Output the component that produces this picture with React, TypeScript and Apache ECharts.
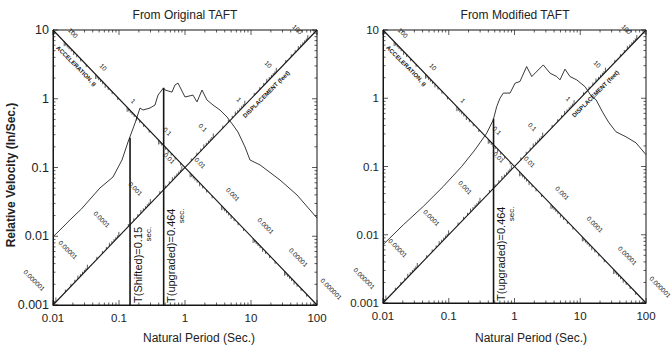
import React, { useEffect, useRef } from 'react';
import * as echarts from 'echarts';

// ---- data -------------------------------------------------------------
const periodRange = [0.01, 100];
const velocityRange = [0.001, 10];

const originalPeriod = [0.01, 0.0137, 0.018, 0.027, 0.0515, 0.081, 0.111, 0.137, 0.175, 0.208, 0.231, 0.295, 0.351, 0.39, 0.47, 0.498, 0.635, 0.705, 0.783, 1.0, 1.32, 1.52, 1.81, 2.15, 2.66, 3.39, 4.33, 5.34, 6.35, 8.11, 9.66, 13.7, 27.5, 49.8, 100];
const originalVelocity = [0.0098, 0.0132, 0.0172, 0.025, 0.0504, 0.0727, 0.1285, 0.235, 0.443, 0.733, 0.686, 0.733, 0.81, 1.13, 1.43, 1.34, 1.25, 1.585, 1.69, 1.06, 1.13, 0.9, 1.34, 0.96, 0.81, 0.686, 0.543, 0.415, 0.328, 0.199, 0.1285, 0.109, 0.0658, 0.0398, 0.0184];

const modifiedPeriod = [0.01, 0.0204, 0.041, 0.0826, 0.157, 0.25, 0.378, 0.476, 0.536, 0.601, 0.676, 0.855, 1.02, 1.21, 1.53, 1.83, 2.74, 3.47, 4.38, 4.92, 5.86, 6.98, 8.83, 11.8, 14.9, 17.4, 22.2, 27.4, 35, 49.7, 70.5, 100];
const modifiedVelocity = [0.00714, 0.014, 0.026, 0.051, 0.1, 0.175, 0.308, 0.483, 0.755, 1.0, 1.19, 1.19, 1.66, 1.76, 2.91, 2.08, 3.08, 2.33, 2.08, 1.86, 2.67, 2.08, 1.86, 1.48, 1.06, 0.95, 0.61, 0.436, 0.322, 0.272, 0.222, 0.149];

const originalMarkerPeriods = [0.147, 0.475];
const originalMarkerTops = [0.27, 1.45];
const originalMarkerLabels = ['T(Shifted)=0.15', 'T(upgraded)=0.464'];

const modifiedMarkerPeriods = [0.48];
const modifiedMarkerTops = [0.5];
const modifiedMarkerLabels = ['T(upgraded)=0.464'];

const accelerationLabels = ['100', '10', '1', '0.1', '0.01', '0.001', '0.0001', '0.00001', '0.000001'];
const displacementLabels = ['0.000001', '0.00001', '0.0001', '0.001', '0.01', '0.1', '1', '10', '100'];

const panelTitles = ['From Original TAFT', 'From Modified TAFT'];

// ---- style ------------------------------------------------------------
const INK = '#151515';
const FONT = '"Liberation Sans", Arial, Helvetica, sans-serif';
const STEP = 0.477; // log10-period span of one decade on the diagonal scales
const ACC_START = -1.83;
const DISP_START = -1.956;

const grids = [
  { left: 53, top: 30, width: 264, height: 275 },
  { left: 383, top: 30, width: 263, height: 273 },
];

function fmt(v: number) {
  return String(Number(Number(v).toPrecision(6)));
}

function overlay(gi: number, mPeriods: number[], mLabels: string[]) {
  return {
    type: 'custom',
    xAxisIndex: gi,
    yAxisIndex: gi,
    clip: false,
    silent: true,
    z: 5,
    data: [[1, 0.1]],
    renderItem: (_params: any, api: any) => {
      const kids: any[] = [];
      const [tMin, tMax] = periodRange;
      const [vMin, vMax] = velocityRange;
      const ltMin = Math.log10(tMin), ltMax = Math.log10(tMax);
      const lvMin = Math.log10(vMin), lvMax = Math.log10(vMax);
      const slope = (lvMax - lvMin) / (ltMax - ltMin);
      const seg = (a: number[], b: number[], w = 0.7) =>
        kids.push({ type: 'line', shape: { x1: a[0], y1: a[1], x2: b[0], y2: b[1] }, style: { stroke: INK, lineWidth: w } });
      const txt = (x: number, y: number, text: string, rot: number, size: number, extra: any = {}) =>
        kids.push({
          type: 'text', x, y, rotation: rot,
          style: { text, fontSize: size, fontFamily: FONT, fill: INK, align: 'center', verticalAlign: 'middle', ...extra },
        });
      const rise = (lt: number) => api.coord([10 ** lt, 10 ** (lvMin + (lt - ltMin) * slope)]);
      const fall = (lt: number) => api.coord([10 ** lt, 10 ** (lvMax - (lt - ltMin) * slope)]);
      const inside = (lt: number) => lt >= ltMin + 0.02 && lt <= ltMax - 0.02;

      // frame ticks (period)
      for (let d = Math.round(ltMin); d <= Math.round(ltMax); d++) {
        for (let m = 1; m <= 9; m++) {
          if (d === Math.round(ltMax) && m > 1) break;
          const t = m * 10 ** d;
          const len = m === 1 ? 5 : 2.5;
          const b = api.coord([t, vMin]);
          const tp = api.coord([t, vMax]);
          seg(b, [b[0], b[1] - len]);
          seg(tp, [tp[0], tp[1] + len]);
        }
      }
      // frame ticks (velocity)
      for (let d = Math.round(lvMin); d <= Math.round(lvMax); d++) {
        for (let m = 1; m <= 9; m++) {
          if (d === Math.round(lvMax) && m > 1) break;
          const v = m * 10 ** d;
          const len = m === 1 ? 5 : 2.5;
          const l = api.coord([tMin, v]);
          const r = api.coord([tMax, v]);
          seg(l, [l[0] + len, l[1]]);
          seg(r, [r[0] - len, r[1]]);
        }
      }

      const s2 = Math.SQRT1_2;
      // displacement scale along rising diagonal
      for (let k = -1; k < displacementLabels.length; k++) {
        const base = DISP_START + STEP * k;
        for (let m = 1; m <= 9; m++) {
          const lt = base + STEP * Math.log10(m);
          if (!inside(lt)) continue;
          const p = rise(lt);
          const len = m === 1 ? 4.5 : m === 5 ? 3.5 : 2.5;
          seg(p, [p[0], p[1] - len]);
        }
        if (k >= 0) {
          const p = rise(base);
          const lab = displacementLabels[k];
          const d = 5 + 3.2 * lab.length;
          txt(p[0] - d * s2, p[1] - d * s2, lab, -Math.PI / 4, 6.5);
        }
      }
      // acceleration scale along falling diagonal
      for (let k = -1; k < accelerationLabels.length; k++) {
        const base = ACC_START + STEP * k;
        for (let m = 1; m <= 9; m++) {
          const lt = m === 1 ? base : base + STEP * (1 - Math.log10(m));
          if (!inside(lt)) continue;
          const p = fall(lt);
          const len = m === 1 ? 4.5 : m === 5 ? 3.5 : 2.5;
          seg(p, [p[0], p[1] + len]);
        }
        if (k >= 0) {
          const p = fall(base);
          const lab = accelerationLabels[k];
          const d = 7 + 1.8 * lab.length;
          txt(p[0] + d * s2, p[1] - d * s2, lab, -Math.PI / 4, 6.5);
        }
      }
      // scale names
      const pa = fall(-1.56);
      txt(pa[0] - 8 * s2, pa[1] + 8 * s2, 'ACCELERATION, g', -Math.PI / 4, 6, { fontWeight: 'bold' });
      const pd = rise(1.147);
      txt(pd[0] + 8 * s2, pd[1] + 8 * s2, 'DISPLACEMENT (feet)', Math.PI / 4, 6, { fontWeight: 'bold' });

      // marker labels
      mPeriods.forEach((t, i) => {
        const p = api.coord([t, vMin]);
        kids.push({
          type: 'text',
          x: p[0] + 1.5,
          y: p[1] - 2,
          rotation: Math.PI / 2,
          style: {
            text: `{a|${mLabels[i]}}\n{b|sec.}`,
            align: 'left',
            verticalAlign: 'top',
            fill: INK,
            fontFamily: FONT,
            rich: {
              a: { fontSize: 11, fontFamily: FONT, fill: INK, lineHeight: 12 },
              b: { fontSize: 8, fontFamily: FONT, fill: INK, lineHeight: 9, align: 'right' },
            },
          },
        });
      });
      return { type: 'group', children: kids };
    },
  };
}

function panelSeries(gi: number, periods: number[], velocities: number[], mPeriods: number[], mTops: number[], mLabels: string[]) {
  const [tMin, tMax] = periodRange;
  const [vMin, vMax] = velocityRange;
  const out: any[] = [
    {
      type: 'line', xAxisIndex: gi, yAxisIndex: gi, symbol: 'none', silent: true, z: 3,
      data: periods.map((t, i) => [t, velocities[i]]),
      lineStyle: { color: '#222', width: 0.9 },
    },
    {
      type: 'line', xAxisIndex: gi, yAxisIndex: gi, symbol: 'none', silent: true, z: 4,
      data: [[tMin, vMax], [tMax, vMin]],
      lineStyle: { color: INK, width: 1.1 },
    },
    {
      type: 'line', xAxisIndex: gi, yAxisIndex: gi, symbol: 'none', silent: true, z: 4,
      data: [[tMin, vMin], [tMax, vMax]],
      lineStyle: { color: INK, width: 1.1 },
    },
  ];
  mPeriods.forEach((t, i) => {
    out.push({
      type: 'line', xAxisIndex: gi, yAxisIndex: gi, symbol: 'none', silent: true, z: 4,
      data: [[t, vMin], [t, mTops[i]]],
      lineStyle: { color: INK, width: 1.6 },
    });
  });
  out.push(overlay(gi, mPeriods, mLabels));
  return out;
}

export default function App() {
  const ref = useRef<HTMLDivElement>(null);
  useEffect(() => {
    if (!ref.current) return;
    const chart = echarts.init(ref.current, undefined, { renderer: 'svg' });
    const axisCommon = {
      type: 'log', logBase: 10,
      axisLine: { show: true, onZero: false, lineStyle: { color: INK, width: 1 } },
      axisTick: { show: false },
      splitLine: { show: false },
      minorTick: { show: false },
    };
    chart.setOption({
      animation: false,
      backgroundColor: '#fff',
      textStyle: { fontFamily: FONT },
      grid: grids.map((g) => ({ ...g, show: true, borderColor: INK, borderWidth: 1, backgroundColor: 'transparent' })),
      xAxis: grids.map((_, i) => ({
        ...axisCommon, gridIndex: i, min: periodRange[0], max: periodRange[1],
        axisLabel: { fontSize: 11.5, color: '#222', margin: 7, fontFamily: FONT, formatter: fmt },
      })),
      yAxis: grids.map((_, i) => ({
        ...axisCommon, gridIndex: i, min: velocityRange[0], max: velocityRange[1],
        axisLabel: { fontSize: i === 0 ? 12.5 : 11.5, color: '#222', margin: 4, fontFamily: FONT, formatter: fmt },
      })),
      graphic: [
        { type: 'text', x: 185, y: 15, style: { text: panelTitles[0], fontSize: 12, fontFamily: FONT, fill: '#222', align: 'center', verticalAlign: 'middle' } },
        { type: 'text', x: 515, y: 15, style: { text: panelTitles[1], fontSize: 12, fontFamily: FONT, fill: '#222', align: 'center', verticalAlign: 'middle' } },
        { type: 'text', x: 199, y: 338, style: { text: 'Natural Period (Sec.)', fontSize: 12, fontFamily: FONT, fill: '#222', align: 'center', verticalAlign: 'middle' } },
        { type: 'text', x: 531, y: 338, style: { text: 'Natural Period (Sec.)', fontSize: 12, fontFamily: FONT, fill: '#222', align: 'center', verticalAlign: 'middle' } },
        { type: 'text', x: 11, y: 175, rotation: Math.PI / 2, style: { text: 'Relative Velocity (In/Sec.)', fontSize: 12, fontWeight: 'bold', fontFamily: FONT, fill: '#222', align: 'center', verticalAlign: 'middle' } },
      ],
      series: [
        ...panelSeries(0, originalPeriod, originalVelocity, originalMarkerPeriods, originalMarkerTops, originalMarkerLabels),
        ...panelSeries(1, modifiedPeriod, modifiedVelocity, modifiedMarkerPeriods, modifiedMarkerTops, modifiedMarkerLabels),
      ],
    });
    return () => chart.dispose();
  }, []);
  return <div ref={ref} style={{ position: 'absolute', left: 0, top: 0, width: 672, height: 345, background: '#fff' }} />;
}
